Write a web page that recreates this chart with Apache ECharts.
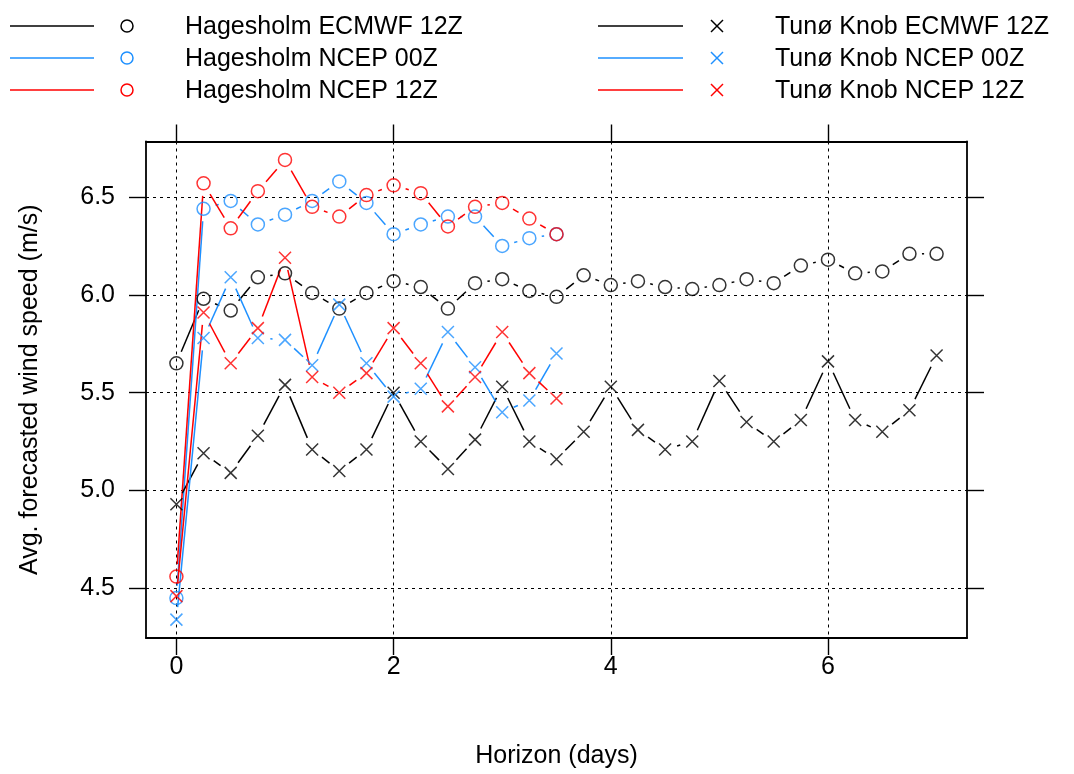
<!DOCTYPE html>
<html>
<head>
<meta charset="utf-8">
<script src="https://cdn.jsdelivr.net/npm/echarts@6/dist/echarts.min.js"></script>
<style>html,body{margin:0;padding:0;background:#fff}#chart{width:1074px;height:774px}</style>
</head>
<body>
<div id="chart"></div>
<script>
// ---- data ----
const horizon = [0,0.25,0.5,0.75,1,1.25,1.5,1.75,2,2.25,2.5,2.75,3,3.25,3.5,3.75,4,4.25,4.5,4.75,5,5.25,5.5,5.75,6,6.25,6.5,6.75,7];
const hagesholmECMWF12 = [5.65,5.98,5.92,6.09,6.11,6.01,5.93,6.01,6.07,6.04,5.93,6.06,6.08,6.02,5.99,6.10,6.05,6.07,6.04,6.03,6.05,6.08,6.06,6.15,6.18,6.11,6.12,6.21,6.21];
const hagesholmNCEP00 = [4.45,6.44,6.48,6.36,6.41,6.48,6.58,6.47,6.31,6.36,6.40,6.40,6.25,6.29,6.31];
const hagesholmNCEP12 = [4.56,6.57,6.34,6.53,6.69,6.45,6.40,6.51,6.56,6.52,6.35,6.45,6.47,6.39,6.31];
const tunoECMWF12 = [4.93,5.19,5.09,5.28,5.54,5.21,5.10,5.21,5.50,5.25,5.11,5.26,5.53,5.25,5.16,5.30,5.53,5.31,5.21,5.25,5.56,5.35,5.25,5.36,5.66,5.36,5.30,5.41,5.69];
const tunoNCEP00 = [4.34,5.78,6.09,5.78,5.77,5.64,5.95,5.65,5.48,5.52,5.81,5.63,5.40,5.46,5.70];
const tunoNCEP12 = [4.46,5.91,5.65,5.83,6.19,5.58,5.50,5.60,5.83,5.65,5.43,5.58,5.81,5.60,5.47];
const seriesNames = ['Hagesholm ECMWF 12Z','Hagesholm NCEP 00Z','Hagesholm NCEP 12Z','Tunø Knob ECMWF 12Z','Tunø Knob NCEP 00Z','Tunø Knob NCEP 12Z'];
const xTicks = [0,2,4,6];
const yTicks = [4.5,5.0,5.5,6.0,6.5];
const xTitle = 'Horizon (days)';
const yTitle = 'Avg. forecasted wind speed (m/s)';

// ---- styles ----
const BLACK = '#000000', BLUE = '#1E90FF', RED = '#FF0000';
const FONT = 'Liberation Sans, Arial, Helvetica, sans-serif';
const FS = 25;
const defs = [
  {values: hagesholmECMWF12, color: BLACK, marker: 'circle'},
  {values: hagesholmNCEP00, color: BLUE, marker: 'circle'},
  {values: hagesholmNCEP12, color: RED, marker: 'circle'},
  {values: tunoECMWF12, color: BLACK, marker: 'cross'},
  {values: tunoNCEP00, color: BLUE, marker: 'cross'},
  {values: tunoNCEP12, color: RED, marker: 'cross'}
];
const CROSS = 'path://M0,0L10,10M10,0L0,10';
const GAP = 12.5;
const LW = 1.5;

// R-style 4% axis extension
const allX = horizon;
const allY = [].concat(...defs.map(d => d.values));
function ext(arr){const lo=Math.min(...arr),hi=Math.max(...arr),r=hi-lo;return [lo-0.04*r,hi+0.04*r];}
const xr = ext(allX), yr = ext(allY);

function segRender(color){
  return function(params, api){
    const p0 = api.coord([api.value(0), api.value(1)]);
    const p1 = api.coord([api.value(2), api.value(3)]);
    const dx = p1[0]-p0[0], dy = p1[1]-p0[1];
    const L = Math.sqrt(dx*dx+dy*dy);
    if (L <= 2*GAP) return {type:'group', children:[]};
    const ux = dx/L, uy = dy/L;
    return {type:'line', shape:{x1:p0[0]+ux*GAP, y1:p0[1]+uy*GAP, x2:p1[0]-ux*GAP, y2:p1[1]-uy*GAP},
      style:{stroke:color, lineWidth:LW}};
  };
}

const series = [];
defs.forEach((d, k) => {
  const pts = d.values.map((v,i) => [horizon[i], v]);
  const segs = d.values.slice(1).map((v,i) => [horizon[i], d.values[i], horizon[i+1], v]);
  series.push({
    type:'custom', name: seriesNames[k] + ' line', renderItem: segRender(d.color),
    data: segs, encode:{x:[0,2], y:[1,3]}, silent:true, z:2
  });
  series.push({
    type:'scatter', name: seriesNames[k], data: pts,
    symbol: d.marker === 'circle' ? 'circle' : CROSS,
    symbolSize: d.marker === 'circle' ? 13 : 12,
    itemStyle:{color:'none', borderColor:d.color, borderWidth:LW},
    emphasis:{disabled:true}, z:3
  });
});

// ---- legend drawn as graphic (line, symbol, text) ----
const graphic = [];
const legCols = [{lx1:10, lx2:94, sx:127, tx:185}, {lx1:598, lx2:683, sx:717, tx:775}];
const legRows = [26, 58, 90];
defs.forEach((d, k) => {
  const c = legCols[Math.floor(k/3)], y = legRows[k%3];
  graphic.push({type:'line', shape:{x1:c.lx1, y1:y, x2:c.lx2, y2:y}, style:{stroke:d.color, lineWidth:LW}});
  if (d.marker === 'circle') {
    graphic.push({type:'circle', shape:{cx:c.sx, cy:y, r:6}, style:{fill:'none', stroke:d.color, lineWidth:LW}});
  } else {
    graphic.push({type:'line', shape:{x1:c.sx-6, y1:y-6, x2:c.sx+6, y2:y+6}, style:{stroke:d.color, lineWidth:LW}});
    graphic.push({type:'line', shape:{x1:c.sx+6, y1:y-6, x2:c.sx-6, y2:y+6}, style:{stroke:d.color, lineWidth:LW}});
  }
  graphic.push({type:'text', style:{text: seriesNames[k], x:c.tx, y:y+1, fill:'#000', font:FS + 'px ' + FONT, verticalAlign:'middle', textAlign:'left'}});
});

const axisLineStyle = {show:true, onZero:false, lineStyle:{color:'#000', width:1.8}};
const gridDot = {show:true, lineStyle:{color:'#000', width:1, type:[3,4]}};
const tickOut = (vals) => ({show:true, inside:false, length:17, customValues: vals, lineStyle:{color:'#000', width:1.4}});

const option = {
  backgroundColor:'#fff',
  animation:false,
  textStyle:{fontFamily:FONT},
  grid:{left:146, right:107, top:141.5, bottom:135.5, containLabel:false},
  xAxis:[
    {type:'value', position:'bottom', min:xr[0], max:xr[1],
     axisLine:axisLineStyle, axisTick:tickOut(xTicks),
     axisLabel:{show:true, customValues:xTicks, margin:17, color:'#000', fontSize:FS, fontFamily:FONT},
     splitLine:gridDot,
     name:xTitle, nameLocation:'middle', nameGap:106, nameTextStyle:{color:'#000', fontSize:FS, fontFamily:FONT}},
    {type:'value', position:'top', min:xr[0], max:xr[1],
     axisLine:axisLineStyle, axisTick:tickOut(xTicks), axisLabel:{show:false}, splitLine:{show:false}}
  ],
  yAxis:[
    {type:'value', position:'left', min:yr[0], max:yr[1],
     axisLine:axisLineStyle, axisTick:tickOut(yTicks),
     axisLabel:{show:true, customValues:yTicks, margin:31, color:'#000', fontSize:FS, fontFamily:FONT, formatter:v=>v.toFixed(1)},
     splitLine:gridDot,
     name:yTitle, nameLocation:'middle', nameRotate:90, nameGap:103, nameTextStyle:{color:'#000', fontSize:FS, fontFamily:FONT}},
    {type:'value', position:'right', min:yr[0], max:yr[1],
     axisLine:axisLineStyle, axisTick:tickOut(yTicks), axisLabel:{show:false}, splitLine:{show:false}}
  ],
  graphic: graphic,
  series: series
};
const chart = echarts.init(document.getElementById('chart'), null, {renderer:'canvas'});
chart.setOption(option);
</script>
</body>
</html>
